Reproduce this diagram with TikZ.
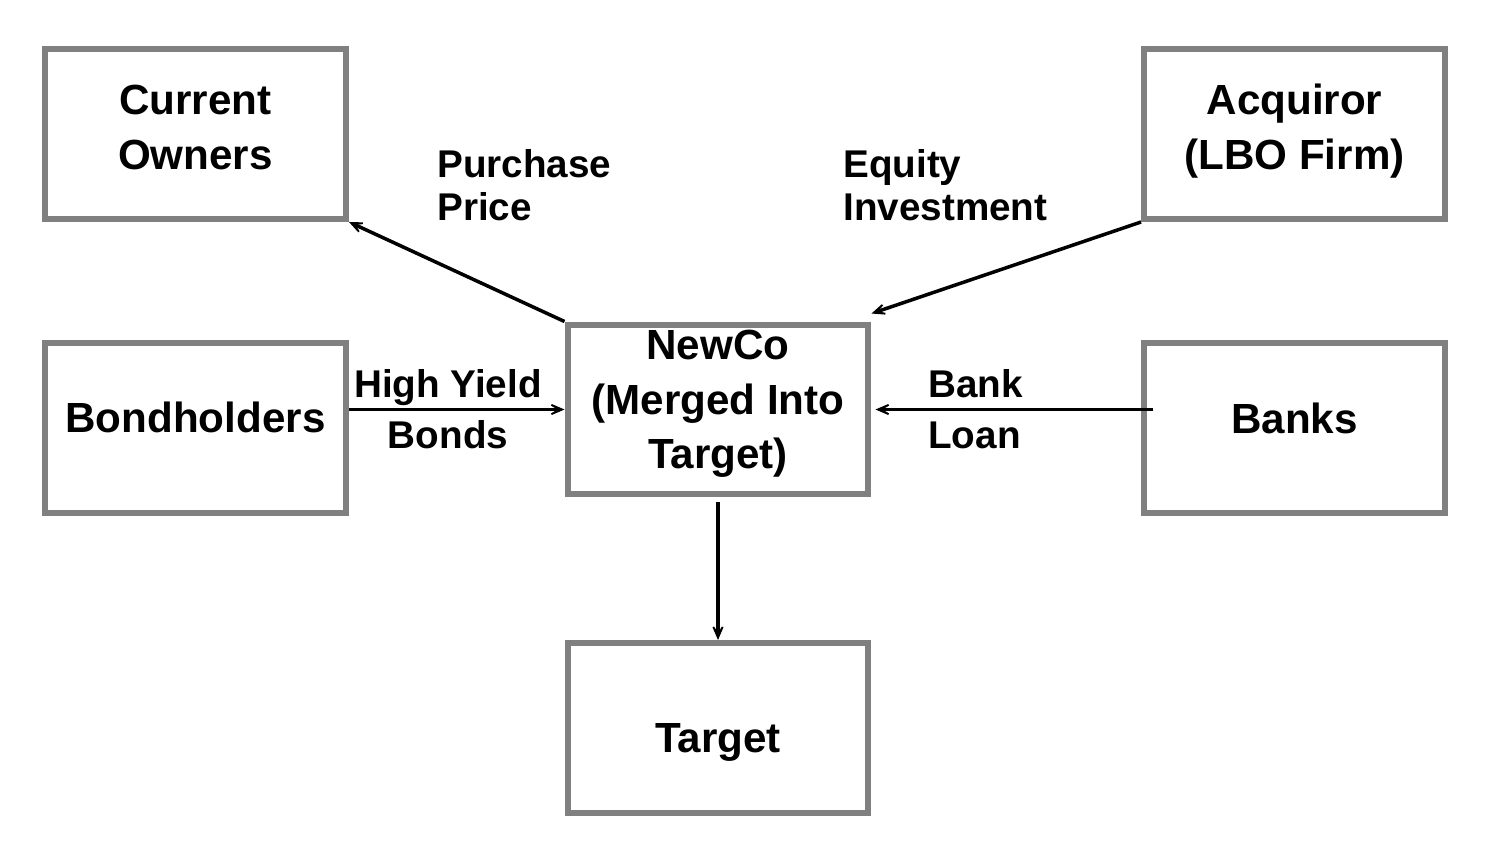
\documentclass[tikz,border=0pt]{standalone}
\usepackage{fontspec}
\setmainfont{Liberation Sans}
\usetikzlibrary{arrows.meta}
\definecolor{boxgray}{gray}{0.5}
\newcommand{\boxtext}[2][0pt]{\raisebox{#1}[\height][\depth]{\begin{tabular}{@{}c@{}}#2\end{tabular}}}

\begin{document}
\begin{tikzpicture}[x=0.02cm,y=-0.02cm,
  box/.style={draw=boxgray,line width=0.12cm,minimum width=6.02cm,minimum height=3.4cm,inner sep=0pt,font=\fontsize{24}{31}\selectfont\bfseries},
  tag/.style={inner sep=0pt,font=\fontsize{22}{24.5}\selectfont\bfseries},
  sidetag/.style={inner sep=0pt,font=\fontsize{22}{28.7}\selectfont\bfseries},
  flow/.style={-{Stealth[length=14pt,width=12pt,inset=10pt]},line width=2pt}]

\useasboundingbox (0,0) rectangle (1486,852);

\node[box] (owners) at (195.5,134) {\boxtext[0.06cm]{Current\\Owners}};
\node[box] (acq) at (1294.5,134) {\boxtext[0.06cm]{Acquiror\\(LBO Firm)}};
\node[box] (bond) at (195.5,428) {\boxtext[0.13cm]{Bondholders}};
\node[box] (banks) at (1294.5,428) {\boxtext[0.11cm]{Banks}};
\node[box] (newco) at (718,409.5) {\boxtext[0.12cm]{NewCo\\(Merged Into\\Target)}};
\node[box] (target) at (718,728) {\boxtext[-0.27cm]{Target}};

\node[tag,anchor=west] (price) at (437,190) {\begin{tabular}{@{}l@{}}Purchase\\Price\end{tabular}};
\node[tag,anchor=west] (equity) at (843,190) {\begin{tabular}{@{}l@{}}Equity\\Investment\end{tabular}};
\node[sidetag] (bonds) at (448,413) {\begin{tabular}{@{}c@{}}High Yield\\Bonds\end{tabular}};
\node[sidetag,anchor=west] (loan) at (928,413) {\begin{tabular}{@{}l@{}}Bank\\Loan\end{tabular}};

\draw[flow] (newco.north west) -- (owners.south east);
\draw[flow] (acq.south west) -- ([yshift=0.16cm]newco.north east);
\draw[flow] (bond.east |- newco.west) -- (newco.west);
\draw[flow,shorten <=-0.24cm,shorten >=0.08cm] (banks.west |- newco.east) -- (newco.east);
\draw[flow,shorten <=0.1cm] (newco.south) -- (target.north);

\end{tikzpicture}
\end{document}
